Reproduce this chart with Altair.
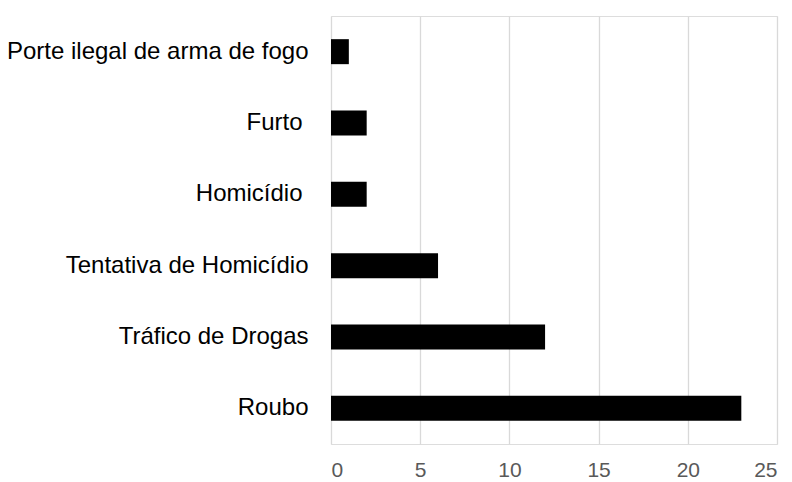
import altair as alt
import pandas as pd

categories = ["Porte ilegal de arma de fogo", "Furto", "Homicídio",
              "Tentativa de Homicídio", "Tráfico de Drogas", "Roubo"]
values = [1, 2, 2, 6, 12, 23]
x_ticks = [0, 5, 10, 15, 20, 25]

df = pd.DataFrame({"crime": categories, "n": values})

chart = alt.Chart(df).mark_bar(size=25, color="#000000").encode(
    y=alt.Y("crime:N", sort=categories, title=None,
            scale=alt.Scale(paddingInner=0, paddingOuter=0),
            axis=alt.Axis(ticks=False, tickSize=0, domain=False, grid=False,
                          labelFont="Liberation Sans", labelFontSize=24,
                          labelColor="#000000", labelLimit=400,
                          labelPadding={"condition": {"test": "datum.value == 'Furto' || datum.value == 'Homicídio'",
                                                      "value": 29},
                                        "value": 23})),
    x=alt.X("n:Q", title=None,
            scale=alt.Scale(domain=[0, 25], nice=False),
            axis=alt.Axis(values=x_ticks, ticks=False, tickSize=0, domain=False,
                          grid=True, gridColor="#d9d9d9", gridWidth=1.3,
                          labelFont="Liberation Sans", labelFontSize=21,
                          labelColor="#595959", labelPadding=15)),
).properties(
    width=446, height=428,
    autosize=alt.AutoSizeParams(type="none"),
    padding={"left": 323, "top": 8, "right": 5, "bottom": 36},
).configure_view(stroke=None).configure(background="white")

chart.save("out.html", embed_options={"renderer": "svg", "actions": False})
